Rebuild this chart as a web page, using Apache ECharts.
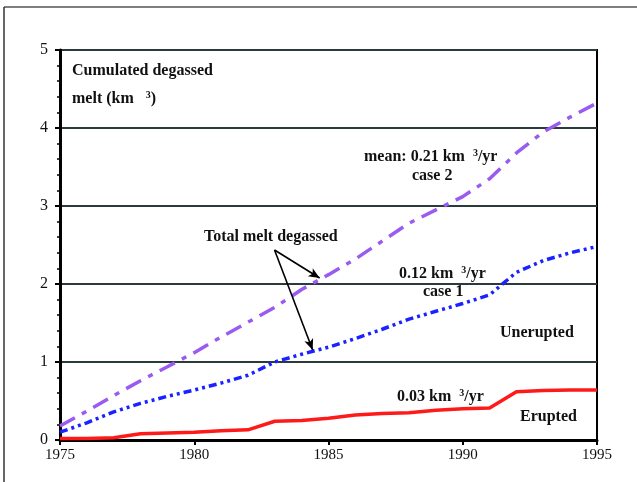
<!DOCTYPE html>
<html><head><meta charset="utf-8">
<script src="https://cdn.jsdelivr.net/npm/echarts@6/dist/echarts.min.js"></script>
<style>html,body{margin:0;padding:0;background:#fff}#c{width:637px;height:482px}</style>
</head><body><div id="c"></div>
<script>
const years = [1975,1976,1977,1978,1979,1980,1981,1982,1983,1984,1985,1986,1987,1988,1989,1990,1991,1992,1993,1994,1995];
const case2 = [0.18,0.37,0.57,0.76,0.94,1.12,1.32,1.51,1.70,1.93,2.12,2.32,2.55,2.78,2.95,3.12,3.35,3.68,3.95,4.14,4.32];
const case1 = [0.10,0.22,0.36,0.47,0.56,0.64,0.73,0.83,1.00,1.10,1.19,1.30,1.42,1.55,1.65,1.75,1.86,2.15,2.30,2.40,2.48];
const erupted = [0.02,0.02,0.03,0.08,0.09,0.10,0.12,0.13,0.24,0.25,0.28,0.32,0.34,0.35,0.38,0.40,0.41,0.62,0.635,0.64,0.64];
const xTicks = [1975,1980,1985,1990,1995];
const yTicks = [0,1,2,3,4,5];
const arrowApex = [1982.99, 2.436];
const arrowToCase2 = [1984.67, 2.077];
const arrowToCase1 = [1984.41, 1.154];

const pairs = v => years.map((y,i)=>[y, v[i]]);
const serif = '"Liberation Serif","DejaVu Serif",serif';
const chart = echarts.init(document.getElementById('c'));
const FS = 16;
function txt(x,y,text){
  return {type:'text', left:x, top:y, style:{text:text, font:'bold '+FS+'px '+serif, fill:'#111',
    rich:{b:{fontFamily:serif,fontWeight:'bold',fontSize:FS,color:'#111',lineHeight:18,verticalAlign:'middle'},
          s:{fontFamily:serif,fontWeight:'bold',fontSize:10,color:'#111',lineHeight:10,verticalAlign:'top'}}}};
}
chart.setOption({
  animation:false,
  backgroundColor:'#fff',
  grid:{left:60,right:40,top:50,bottom:42,show:true,borderColor:'#000',borderWidth:2,backgroundColor:'transparent'},
  xAxis:{type:'value',min:1975,max:1995,interval:5,
    axisLine:{lineStyle:{color:'#000',width:3}},
    axisTick:{show:true,inside:false,length:5,lineStyle:{color:'#000',width:2}},
    axisLabel:{fontFamily:serif,fontSize:15,color:'#111',margin:8,formatter:v=>xTicks.includes(v)?String(v):''},
    splitLine:{show:false}},
  yAxis:{type:'value',min:0,max:5,interval:1,
    axisLine:{show:true,lineStyle:{color:'#000',width:3}},
    axisTick:{show:true,length:5,lineStyle:{color:'#000',width:2}},
    minorTick:{show:true,splitNumber:5,length:3,lineStyle:{color:'#000',width:1.5}},
    axisLabel:{fontFamily:serif,fontSize:16,color:'#111',margin:12,formatter:v=>yTicks.includes(v)?String(v):''},
    splitLine:{show:true,lineStyle:{color:'#2b3b3b',width:2}}},
  series:[
    {type:'line',data:pairs(case2),showSymbol:false,symbol:'none',
     lineStyle:{color:'#9a5cf0',width:3.5,type:[17,8,5,8]}},
    {type:'line',data:pairs(case1),showSymbol:false,symbol:'none',
     lineStyle:{color:'#1a22ff',width:3.5,type:[8,4,3,4,3,4]},
     markLine:{silent:true,symbol:['none','arrow'],symbolSize:[7,11],animation:false,
       lineStyle:{color:'#000',width:1.6,type:'solid'},label:{show:false},
       data:[[{coord:arrowApex},{coord:arrowToCase2}],[{coord:arrowApex},{coord:arrowToCase1}]]}},
    {type:'line',data:pairs(erupted),showSymbol:false,symbol:'none',
     lineStyle:{color:'#ff1a1a',width:3.5,type:'solid'}}
  ],
  graphic:[
    {type:'line',shape:{x1:4,y1:7,x2:637,y2:7},style:{stroke:'#555',lineWidth:1.5}},
    {type:'line',shape:{x1:4,y1:7,x2:4,y2:482},style:{stroke:'#333',lineWidth:1.5}},
    txt(72,63,'{b|Cumulated degassed}'),
    txt(72,90,'{b|melt (km   }{s|3}{b|)}'),
    txt(364,148,'{b|mean: 0.21 km  }{s|3}{b|/yr}'),
    txt(412,168,'{b|case 2}'),
    txt(204,229,'{b|Total melt degassed}'),
    txt(399,265,'{b|0.12 km  }{s|3}{b|/yr}'),
    txt(423,284,'{b|case 1}'),
    txt(500,325,'{b|Unerupted}'),
    txt(397,388,'{b|0.03 km  }{s|3}{b|/yr}'),
    txt(520,409,'{b|Erupted}')
  ]
});
</script></body></html>
